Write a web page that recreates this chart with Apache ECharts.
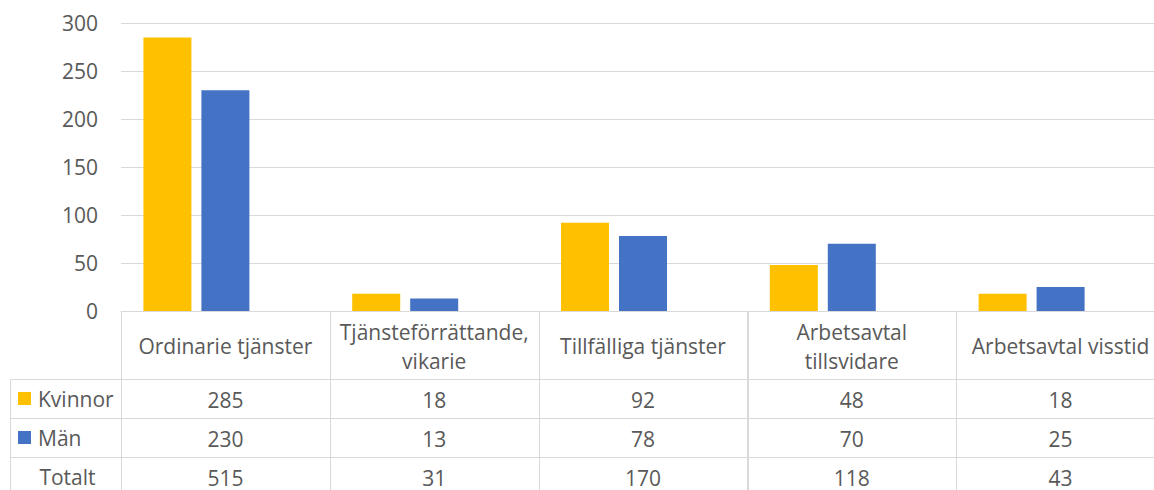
<!DOCTYPE html>
<html><head><meta charset="utf-8">
<script src="https://cdn.jsdelivr.net/npm/echarts@6/dist/echarts.min.js"></script>
<style>html,body{margin:0;padding:0;background:#fff}#c{width:1154px;height:490px}</style>
</head><body><div id="c"></div>
<script>
// ---- data ----
const categories = ['Ordinarie tjänster', 'Tjänsteförrättande,\nvikarie', 'Tillfälliga tjänster', 'Arbetsavtal\ntillsvidare', 'Arbetsavtal visstid'];
const kvinnor = [285, 18, 92, 48, 18];
const man = [230, 13, 78, 70, 25];
const totalt = [515, 31, 170, 118, 43];
const rowNames = ['Kvinnor', 'Män', 'Totalt'];

// ---- style ----
const FONT = 'Open Sans';
const TXT = '#595959';
const LINE = '#d9d9d9';
const COL_K = '#FFC000';
const COL_M = '#4472C4';
const HEADER_H = 68, ROW_H = 39, LEGEND_W = 111;

const rowValues = [kvinnor, man, totalt];
const rowColors = [COL_K, COL_M, null];

// table cells: [col, row, isLegend]
const cells = [];
for (let c = 0; c < categories.length; c++) {
  for (let r = 0; r <= rowNames.length; r++) cells.push([c, r, 0]);
}
for (let r = 1; r <= rowNames.length; r++) cells.push([0, r, 1]);

function renderCell(params, api) {
  const col = api.value(0), row = api.value(1), isLegend = api.value(2);
  const bandW = api.size([1, 0])[0];
  const yBase = api.coord([0, 0])[1];
  let x0, w;
  if (isLegend) {
    x0 = api.coord([0, 0])[0] - bandW / 2 - LEGEND_W;
    w = LEGEND_W;
  } else {
    x0 = api.coord([col, 0])[0] - bandW / 2;
    w = bandW;
  }
  const top = row === 0 ? yBase : yBase + HEADER_H + (row - 1) * ROW_H;
  const h = row === 0 ? HEADER_H : ROW_H;
  const rx = Math.round(x0) + 0.5, ry = Math.round(top) + 0.5;
  const children = [{
    type: 'rect',
    shape: { x: rx, y: ry, width: Math.round(w), height: h },
    style: { fill: 'none', stroke: LINE, lineWidth: 1 }
  }];
  if (isLegend) {
    const color = rowColors[row - 1];
    if (color) {
      children.push({ type: 'rect', shape: { x: x0 + 8, y: top + h / 2 - 6.5, width: 13, height: 13 }, style: { fill: color } });
      children.push({ type: 'text', style: { x: x0 + 28, y: top + h / 2, text: rowNames[row - 1], fill: TXT, font: '21px "' + FONT + '"', align: 'left', verticalAlign: 'middle' } });
    } else {
      children.push({ type: 'text', style: { x: x0 + w / 2 + 2, y: top + h / 2, text: rowNames[row - 1], fill: TXT, font: '21px "' + FONT + '"', align: 'center', verticalAlign: 'middle' } });
    }
  } else {
    const text = row === 0 ? categories[col] : String(rowValues[row - 1][col]);
    children.push({ type: 'text', style: { x: x0 + w / 2, y: top + h / 2 + 1, text: text, fill: TXT, font: '21px "' + FONT + '"', lineHeight: 29, align: 'center', verticalAlign: 'middle' } });
  }
  return { type: 'group', children: children };
}

const chart = echarts.init(document.getElementById('c'), null, { renderer: 'svg' });
chart.setOption({
  animation: false,
  backgroundColor: '#fff',
  textStyle: { fontFamily: FONT },
  grid: { left: 121, top: 23, width: 1044, height: 288, outerBoundsMode: 'none', containLabel: false },
  xAxis: {
    type: 'category', data: categories,
    axisLine: { lineStyle: { color: LINE, width: 1 } },
    axisTick: { show: false }, axisLabel: { show: false }, splitLine: { show: false }
  },
  yAxis: {
    type: 'value', min: 0, max: 300, interval: 50,
    axisLine: { show: false }, axisTick: { show: false },
    axisLabel: { fontSize: 21, color: TXT, margin: 23, fontFamily: FONT },
    splitLine: { lineStyle: { color: LINE, width: 1 } }
  },
  series: [
    { name: 'Kvinnor', type: 'bar', data: kvinnor, barWidth: 48, barGap: '20.8%', itemStyle: { color: COL_K } },
    { name: 'Män', type: 'bar', data: man, barWidth: 48, barGap: '20.8%', itemStyle: { color: COL_M } },
    { name: 'Totalt', type: 'bar', data: totalt, barWidth: 48, barGap: '20.8%', silent: true, itemStyle: { color: 'rgba(0,0,0,0)' } },
    { type: 'custom', data: cells, renderItem: renderCell, silent: true, clip: false, z: 3 }
  ]
});
</script></body></html>
